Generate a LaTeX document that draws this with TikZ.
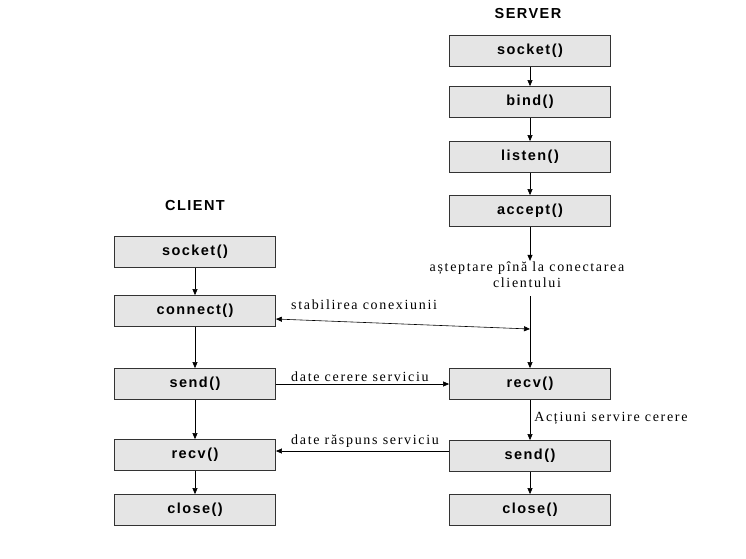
\documentclass[tikz,border=0pt]{standalone}
\usepackage{fontspec}
\setmainfont{Liberation Serif}[LetterSpace=12]
\setsansfont{Liberation Sans}[LetterSpace=10]
\usetikzlibrary{arrows.meta,calc}
\begin{document}
\begin{tikzpicture}[x=1pt,y=-1pt,
  fbox/.style={draw=black!80,line width=0.8pt,fill=black!10,minimum width=161pt,minimum height=31pt,inner sep=0pt,font=\sffamily\bfseries\fontsize{14.5}{16}\selectfont},
  ttl/.style={font=\sffamily\bfseries\fontsize{14.5}{16}\selectfont},
  lbl/.style={font=\fontsize{14}{16}\selectfont,inner sep=1pt},
  arr/.style={-{Triangle[length=6pt,width=5pt]},line width=0.6pt},
  darr/.style={{Triangle[length=6pt,width=5pt]}-{Triangle[length=6pt,width=5pt]},line width=0.6pt}]
\useasboundingbox (0,0) rectangle (746,558);
% server
\node[ttl] (st) at (528,14) {SERVER};
\node[fbox] (ssock) at (530,51) {socket()};
\node[fbox] (sbind) at (530,102) {bind()};
\node[fbox] (slist) at (530,157) {listen()};
\node[fbox] (sacc) at (530,211) {accept()};
\node[lbl,align=center,font=\fontsize{14}{16}\selectfont] (wait) at (527,275) {așteptare pînă la conectarea\\clientului};
\node[fbox] (srecv) at (530,384) {recv()};
\node[fbox] (ssend) at (530,456) {send()};
\node[fbox] (sclose) at (530,510) {close()};
% client
\node[ttl] (ct) at (195,205) {CLIENT};
\node[fbox] (csock) at (195,252) {socket()};
\node[fbox] (cconn) at (195,311) {connect()};
\node[fbox] (csend) at (195,384) {send()};
\node[fbox] (crecv) at (195,455) {recv()};
\node[fbox] (cclose) at (195,510) {close()};
% server flow
\draw[arr] (ssock) -- (sbind);
\draw[arr] (sbind) -- (slist);
\draw[arr] (slist) -- (sacc);
\draw[arr] (sacc) -- (sacc.south |- wait.north);
\coordinate (wbot) at (530,296);
\coordinate (hit) at (530,329);
\draw[arr] (wbot) -- (srecv);
\draw[arr] (srecv) -- node[lbl,right=3pt,pos=0.45] (act) {Acțiuni servire cerere} (ssend);
\draw[arr] (ssend) -- (sclose);
% client flow
\draw[arr] (csock) -- (cconn);
\draw[arr] (cconn) -- (csend);
\draw[arr] (csend) -- (crecv);
\draw[arr] (crecv) -- (cclose);
% exchanges
\coordinate (cc) at ($(cconn.east)+(0,8)$);
\draw[darr] (cc) -- (hit);
\node[lbl,anchor=south west] (l1) at (290,311) {stabilirea conexiunii};
\draw[arr] (csend) -- (srecv);
\node[lbl,anchor=south west] (l2) at (290,383) {date cerere serviciu};
\coordinate (se) at ($(ssend.west)+(0,-5)$);
\coordinate (re) at ($(crecv.east)+(0,-4)$);
\draw[arr] (se) -- (re);
\node[lbl,anchor=south west] (l3) at (290,449) {date răspuns serviciu};
\end{tikzpicture}
\end{document}
